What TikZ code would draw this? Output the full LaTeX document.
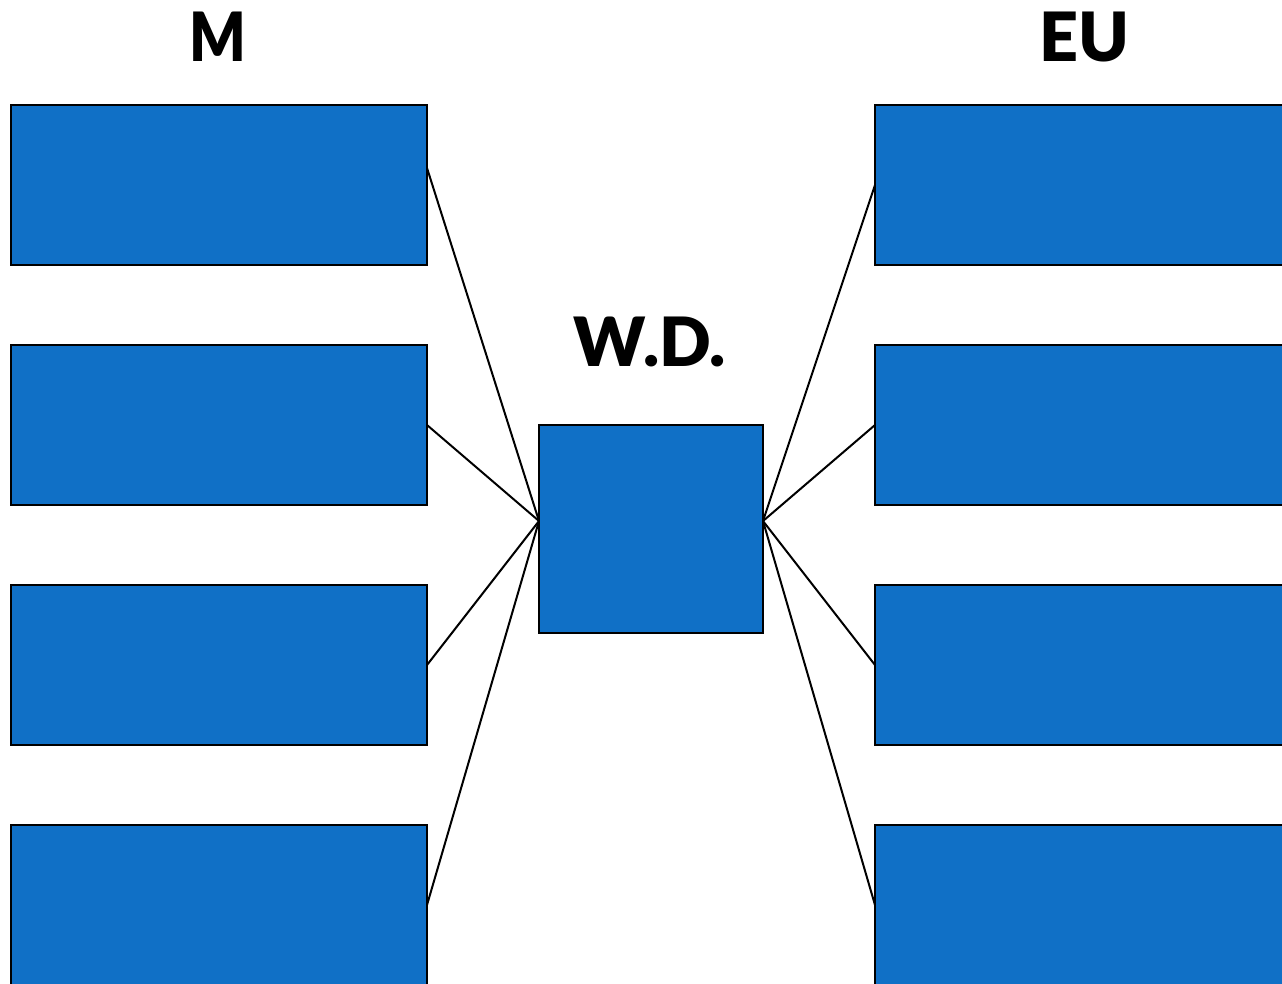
\documentclass[tikz,border=0pt]{standalone}
\usepackage{fontspec}
\setmainfont{Lato}[BoldFont={Lato Black}]
\definecolor{boxblue}{HTML}{1070C6}
\begin{document}
\begin{tikzpicture}[x=1pt,y=-1pt,
  block/.style={draw=black,line width=2pt,fill=boxblue,inner sep=0pt,outer sep=0pt,minimum width=416pt,minimum height=160pt,anchor=north west},
  hub/.style={draw=black,line width=2pt,fill=boxblue,inner sep=0pt,outer sep=0pt,minimum width=224pt,minimum height=208pt,anchor=north west},
  title/.style={font=\fontsize{68}{72}\selectfont\bfseries,anchor=base,inner sep=0pt},
  link/.style={draw=black,line width=2pt}]
\useasboundingbox (0,0) rectangle (1282,983);
\clip (0,0) rectangle (1282,983);
% column headings
\node[title,xscale=0.87] (hM) at (218,61) {M};
\node[title] (hEU) at (1084,61) {EU};
\node[title] (hWD) at (650,366) {W.D.};
% central box
\node[hub] (wd) at (539,425) {};
% left column
\node[block] (m1) at (11,105) {};
\node[block] (m2) at (11,345) {};
\node[block] (m3) at (11,585) {};
\node[block] (m4) at (11,825) {};
% right column
\node[block] (e1) at (875,105) {};
\node[block] (e2) at (875,345) {};
\node[block] (e3) at (875,585) {};
\node[block] (e4) at (875,825) {};
% connectors into the central box (shifts are in page direction, up is positive)
\coordinate (wdL) at ([yshift=8pt]wd.west);
\coordinate (wdR) at ([yshift=8pt]wd.east);
\draw[link] ([yshift=17pt]m1.east) -- (wdL);
\draw[link] (m2.east) -- (wdL);
\draw[link] (m3.east) -- (wdL);
\draw[link] (m4.east) -- (wdL);
\draw[link] (e1.west) -- (wdR);
\draw[link] (e2.west) -- (wdR);
\draw[link] (e3.west) -- (wdR);
\draw[link] (e4.west) -- (wdR);
\end{tikzpicture}
\end{document}
